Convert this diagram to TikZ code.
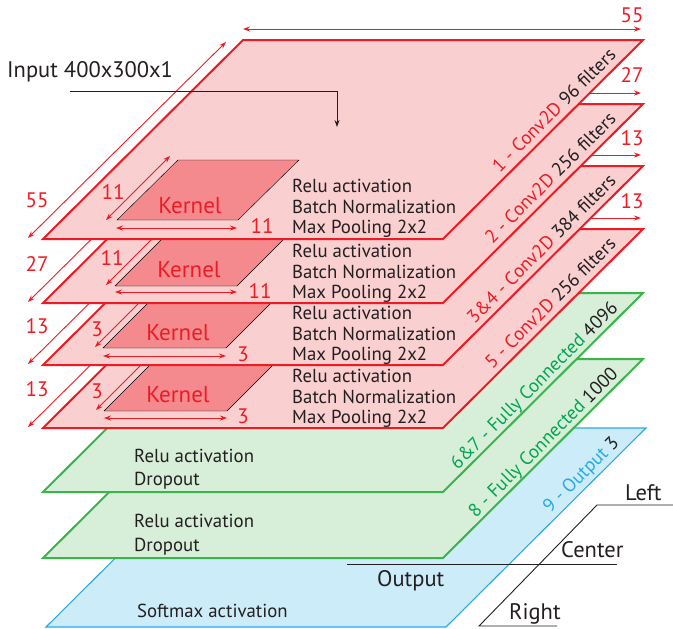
\documentclass[tikz,border=0pt]{standalone}
\usepackage{fontspec}
\setmainfont{PT Sans}
\usetikzlibrary{arrows.meta}
\definecolor{convred}{HTML}{ED1C24}
\definecolor{convfill}{HTML}{F9CFD0}
\definecolor{kernfill}{HTML}{F48A8D}
\definecolor{fcgreen}{HTML}{39B54A}
\definecolor{fctext}{HTML}{00A651}
\definecolor{fcfill}{HTML}{D7EED8}
\definecolor{outblue}{HTML}{29ABE2}
\definecolor{outfill}{HTML}{CCECF9}
\definecolor{ink}{HTML}{231F20}

\begin{document}
\begin{tikzpicture}[x=1pt, y=-1pt, >={Stealth[length=7pt,width=5pt]},
    convlayer/.style={draw=convred, fill=convfill, line width=2pt},
    fclayer/.style={draw=fcgreen, fill=fcfill, line width=2pt},
    outlayer/.style={draw=outblue, fill=outfill, line width=1.1pt},
    kernel/.style={fill=kernfill},
    dim/.style={<->, draw=convred, line width=0.9pt},
    dimlbl/.style={text=convred, font=\fontsize{21}{21}\selectfont, anchor=base, inner sep=0pt},
    kernlbl/.style={text=convred, font=\fontsize{23}{24}\selectfont, anchor=base, inner sep=0pt},
    info/.style={text=ink, font=\fontsize{18.8}{20}\selectfont, anchor=base west, inner sep=0pt},
    tag/.style={font=\fontsize{18.8}{20}\selectfont, rotate=45, anchor=base east, inner sep=0pt},
    big/.style={text=ink, font=\fontsize{22.5}{24}\selectfont, anchor=base west, inner sep=0pt}]
    \useasboundingbox (0,0) rectangle (673,629);

    % === Capa 9: salida (azul) ===
    \draw[outlayer] (46,627) -- (446,627) -- (646,428) -- (246,428) -- cycle;
    \node[info] (smax) at (137,617) {Softmax activation};
    \node[tag, text=outblue] (tag9) at (620,444) {9 - Output \textcolor{ink}{3}};

    % === Capa 8: fully connected (verde) ===
    \draw[fclayer] (43,558) -- (443,558) -- (643,359) -- (243,359) -- cycle;
    \node[info] (relu8) at (134,527) {Relu activation};
    \node[info] (drop8) at (134,551) {Dropout};
    \node[tag, text=fctext] (tag8) at (619,375) {8 - Fully Connected \textcolor{ink}{1000}};

    % === Capa 6&7: fully connected (verde) ===
    \draw[fclayer] (43,492) -- (443,492) -- (643,293) -- (243,293) -- cycle;
    \node[info] (relu6) at (134,462) {Relu activation};
    \node[info] (drop6) at (134,485) {Dropout};
    \node[tag, text=fctext] (tag6) at (619,309) {6\&7 - Fully Connected \textcolor{ink}{4096}};

    % === Capa 5: conv ===
    \draw[dim] (243,218) -- (641,218);
    \node[dimlbl] (w5) at (632,208) {13};
    \draw[dim] (28,427) -- (226,231);
    \node[dimlbl] (h5) at (37,396) {13};
    \draw[convlayer] (43,428) -- (443,428) -- (643,229) -- (243,229) -- cycle;
    \draw[kernel] (104,411) -- (227,411) -- (287,351) -- (164,351) -- cycle;
    \node[kernlbl] (k5) at (178,402) {Kernel};
    \draw[dim] (96,410) -- (160,346);
    \node[dimlbl] (kh5) at (97,398) {3};
    \draw[dim] (104,418) -- (227,418);
    \node[dimlbl] (kw5) at (243,423) {3};
    \node[info] (relu5) at (292,382) {Relu activation};
    \node[info] (bn5) at (292,403) {Batch Normalization};
    \node[info] (mp5) at (292,423) {Max Pooling 2x2};
    \node[tag, text=convred] (tag5) at (617,245) {5 - Conv2D \textcolor{ink}{256 filters}};

    % === Capa 3&4: conv ===
    \draw[dim] (243,155) -- (641,155);
    \node[dimlbl] (w3) at (632,145) {13};
    \draw[dim] (28,364) -- (226,168);
    \node[dimlbl] (h3) at (37,333) {13};
    \draw[convlayer] (43,365) -- (443,365) -- (643,166) -- (243,166) -- cycle;
    \draw[kernel] (103,348) -- (226,348) -- (286,288) -- (163,288) -- cycle;
    \node[kernlbl] (k3) at (178,340) {Kernel};
    \draw[dim] (95,347) -- (159,283);
    \node[dimlbl] (kh3) at (97,336) {3};
    \draw[dim] (103,356) -- (226,356);
    \node[dimlbl] (kw3) at (243,361) {3};
    \node[info] (relu3) at (292,319) {Relu activation};
    \node[info] (bn3) at (292,340) {Batch Normalization};
    \node[info] (mp3) at (292,360) {Max Pooling 2x2};
    \node[tag, text=convred] (tag3) at (617,182) {3\&4 - Conv2D \textcolor{ink}{384 filters}};

    % === Capa 2: conv ===
    \draw[dim] (243,93) -- (641,93);
    \node[dimlbl] (w2) at (632,82) {27};
    \draw[dim] (28,302) -- (226,106);
    \node[dimlbl] (h2) at (37,271) {27};
    \draw[convlayer] (43,303) -- (443,303) -- (643,104) -- (243,104) -- cycle;
    \draw[kernel] (115,286) -- (237,286) -- (297,226) -- (175,226) -- cycle;
    \node[kernlbl] (k2) at (189,277) {Kernel};
    \draw[dim] (106,285) -- (170,221);
    \node[dimlbl] (kh2) at (112,265) {11};
    \draw[dim] (115,292) -- (237,292);
    \node[dimlbl] (kw2) at (260,298) {11};
    \node[info] (relu2) at (292,257) {Relu activation};
    \node[info] (bn2) at (292,278) {Batch Normalization};
    \node[info] (mp2) at (292,298) {Max Pooling 2x2};
    \node[tag, text=convred] (tag2) at (617,120) {2 - Conv2D \textcolor{ink}{256 filters}};

    % === Capa 1: conv ===
    \draw[dim] (243,29) -- (641,29);
    \node[dimlbl] (w1) at (632,22) {55};
    \draw[dim] (28,238) -- (226,42);
    \node[dimlbl] (h1) at (37,207) {55};
    \draw[convlayer] (43,239) -- (443,239) -- (643,40) -- (243,40) -- cycle;
    \draw[kernel] (117,220) -- (238,220) -- (299,160) -- (178,160) -- cycle;
    \node[kernlbl] (k1) at (190,213) {Kernel};
    \draw[dim] (106,220) -- (170,156);
    \node[dimlbl] (kh1) at (113,199) {11};
    \draw[dim] (116,228) -- (237,228);
    \node[dimlbl] (kw1) at (262,233) {11};
    \node[info] (relu1) at (292,192) {Relu activation};
    \node[info] (bn1) at (292,213) {Batch Normalization};
    \node[info] (mp1) at (292,233) {Max Pooling 2x2};
    \node[tag, text=convred] (tag1) at (617,56) {1 - Conv2D \textcolor{ink}{96 filters}};

    % Entrada
    \node[big] (inp) at (7,77) {Input 400x300x1};
    \coordinate (inpfrom) at (70,91);
    \coordinate (inpto) at (337,127);
    \draw[->, ink, line width=0.9pt] (inpfrom) -| (inpto);

    % Salidas
    \coordinate (leftend) at (673,505);
    \coordinate (lefttip) at (597,505);
    \coordinate (righttip) at (479,626);
    \coordinate (rightend) at (557,626);
    \coordinate (centfrom) at (347,564);
    \coordinate (centto) at (617,564);
    \draw[ink, line width=0.9pt] (leftend) -- (lefttip) -- (righttip) -- (rightend);
    \draw[ink, line width=0.9pt] (centfrom) -- (centto);
    \node[big] (outlbl) at (377,586) {Output};
    \node[big] (leftlbl) at (625,500) {Left};
    \node[big] (centlbl) at (561,557) {Center};
    \node[big] (rightlbl) at (509,619) {Right};
\end{tikzpicture}
\end{document}
